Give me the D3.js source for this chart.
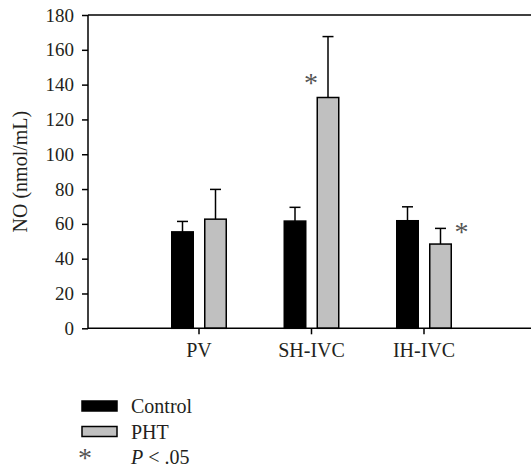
<!DOCTYPE html>
<html>
<head>
<meta charset="UTF-8">
<title>NO bar chart</title>
<style type="text/css">
	body { margin: 0; background: #fff; }
	text { font-family: "Liberation Serif", "Times New Roman", serif; fill: #231f20; }
	.tick text { font-size: 19px; font-family: "Liberation Serif", serif; fill: #231f20; }
	.cat { font-size: 20px; text-anchor: middle; }
	.legend text { font-size: 20px; }
	.star { font-size: 28px; fill: #555; text-anchor: middle; }
	.legend .star { font-size: 28px; }
</style>
<script type="text/javascript" src="https://cdn.jsdelivr.net/npm/d3@7"></script>
</head>
<body>
<div id="div_main"></div>
<script type="text/javascript">

	var categories = ["PV", "SH-IVC", "IH-IVC"];
	var series = ["Control", "PHT"];
	var controlMean = [55.4, 61.6, 61.8];
	var controlErr = [6.0, 7.9, 8.0];
	var phtMean = [62.7, 132.6, 48.4];
	var phtErr = [17.1, 35.0, 9.0];
	var phtSignificant = [false, true, true];
	var yTicks = [0, 20, 40, 60, 80, 100, 120, 140, 160, 180];
	var colors = ["#000000", "#c0c0c0"];

	var svg_w = 531, svg_h = 469;
	var padLeft = 88, padRight = 531, padTop = 15, padBottom = 328.3;

	var svg = d3.select("#div_main")
		.append("svg")
			.attr("width", svg_w)
			.attr("height", svg_h);

	// scales
	var scaleY = d3.scaleLinear()
		.domain([0, 180])
		.range([padBottom, padTop]);

	var scaleX = d3.scaleLinear()
		.domain([0, 4])
		.range([padLeft - 1.5, padLeft - 1.5 + 450]);

	var barW = 21.5, offset = 16.5;

	// data rows
	var rows = [];
	categories.forEach(function (c, i) {
		rows.push({ cat: i + 1, s: 0, mean: controlMean[i], err: controlErr[i], sig: false });
		rows.push({ cat: i + 1, s: 1, mean: phtMean[i], err: phtErr[i], sig: phtSignificant[i] });
	});
	function cx(d) { return scaleX(d.cat) + (d.s === 0 ? -offset : offset); }

	// error bars (drawn behind bars)
	var eb = svg.append("g").attr("stroke", "#000").attr("stroke-width", 1.5);
	eb.selectAll("line.v")
		.data(rows).enter().append("line")
			.attr("x1", cx).attr("x2", cx)
			.attr("y1", function (d) { return scaleY(d.mean); })
			.attr("y2", function (d) { return scaleY(d.mean + d.err); });
	eb.selectAll("line.cap")
		.data(rows).enter().append("line")
			.attr("x1", function (d) { return cx(d) - 5.5; })
			.attr("x2", function (d) { return cx(d) + 5.5; })
			.attr("y1", function (d) { return scaleY(d.mean + d.err); })
			.attr("y2", function (d) { return scaleY(d.mean + d.err); });

	// bars
	svg.selectAll("rect.bar")
		.data(rows).enter().append("rect")
			.attr("class", "bar")
			.attr("x", function (d) { return cx(d) - barW / 2; })
			.attr("y", function (d) { return scaleY(d.mean); })
			.attr("width", barW)
			.attr("height", function (d) { return scaleY(0) - scaleY(d.mean); })
			.attr("fill", function (d) { return colors[d.s]; })
			.attr("stroke", "#000")
			.attr("stroke-width", 1.5);

	// significance stars: left of the tall bar, right of the short one
	svg.selectAll("text.star")
		.data(rows.filter(function (d) { return d.sig; })).enter().append("text")
			.attr("class", "star")
			.attr("x", function (d) { return d.mean > 100 ? cx(d) - 17 : cx(d) + 21; })
			.attr("y", function (d) { return d.mean > 100 ? scaleY(d.mean) - 6 : scaleY(d.mean + d.err) + 13; })
			.text("*");

	// y axis
	var axisY = d3.axisLeft(scaleY).tickValues(yTicks).tickSize(6).tickPadding(8);
	var gy = svg.append("g")
		.attr("transform", "translate(" + padLeft + ",0)")
		.call(axisY);
	gy.attr("font-family", null).attr("font-size", null);
	gy.select(".domain").remove();
	gy.selectAll("line").attr("stroke", "#000").attr("stroke-width", 1.5);
	svg.append("line")
		.attr("x1", padLeft).attr("x2", padLeft)
		.attr("y1", scaleY(180)).attr("y2", scaleY(0))
		.attr("stroke", "#000").attr("stroke-width", 1.5);

	// frame top and x axis line
	svg.append("line")
		.attr("x1", padLeft).attr("x2", padRight)
		.attr("y1", scaleY(180)).attr("y2", scaleY(180))
		.attr("stroke", "#000").attr("stroke-width", 1.5);
	svg.append("line")
		.attr("x1", padLeft).attr("x2", padRight)
		.attr("y1", scaleY(0)).attr("y2", scaleY(0))
		.attr("stroke", "#000").attr("stroke-width", 1.5);

	// x ticks and labels
	svg.selectAll("line.xt")
		.data(categories).enter().append("line")
			.attr("x1", function (d, i) { return scaleX(i + 1); })
			.attr("x2", function (d, i) { return scaleX(i + 1); })
			.attr("y1", scaleY(0)).attr("y2", scaleY(0) + 6)
			.attr("stroke", "#000").attr("stroke-width", 1.5);
	svg.selectAll("text.cat")
		.data(categories).enter().append("text")
			.attr("class", "cat")
			.attr("x", function (d, i) { return scaleX(i + 1); })
			.attr("y", 357)
			.text(function (d) { return d; });

	// y label
	svg.append("text")
		.attr("transform", "translate(27," + ((padTop + padBottom) / 2) + ") rotate(-90)")
		.attr("text-anchor", "middle")
		.style("font-size", "20px")
		.text("NO (nmol/mL)");

	// legend
	var lg = svg.append("g").attr("class", "legend").attr("transform", "translate(82,401)");
	lg.selectAll("rect")
		.data(series).enter().append("rect")
			.attr("x", 0)
			.attr("y", function (d, i) { return i * 25.5; })
			.attr("width", 35).attr("height", 10)
			.attr("fill", function (d, i) { return colors[i]; })
			.attr("stroke", "#000").attr("stroke-width", 1.5);
	lg.selectAll("text.lab")
		.data(series).enter().append("text")
			.attr("x", 49)
			.attr("y", function (d, i) { return i * 25.5 + 12; })
			.text(function (d) { return d; });
	lg.append("text").attr("class", "star").attr("x", 3).attr("y", 66).text("*");
	var pt = lg.append("text").attr("x", 49).attr("y", 63);
	pt.append("tspan").style("font-style", "italic").text("P");
	pt.append("tspan").text(" < .05");

</script>
</body>
</html>
